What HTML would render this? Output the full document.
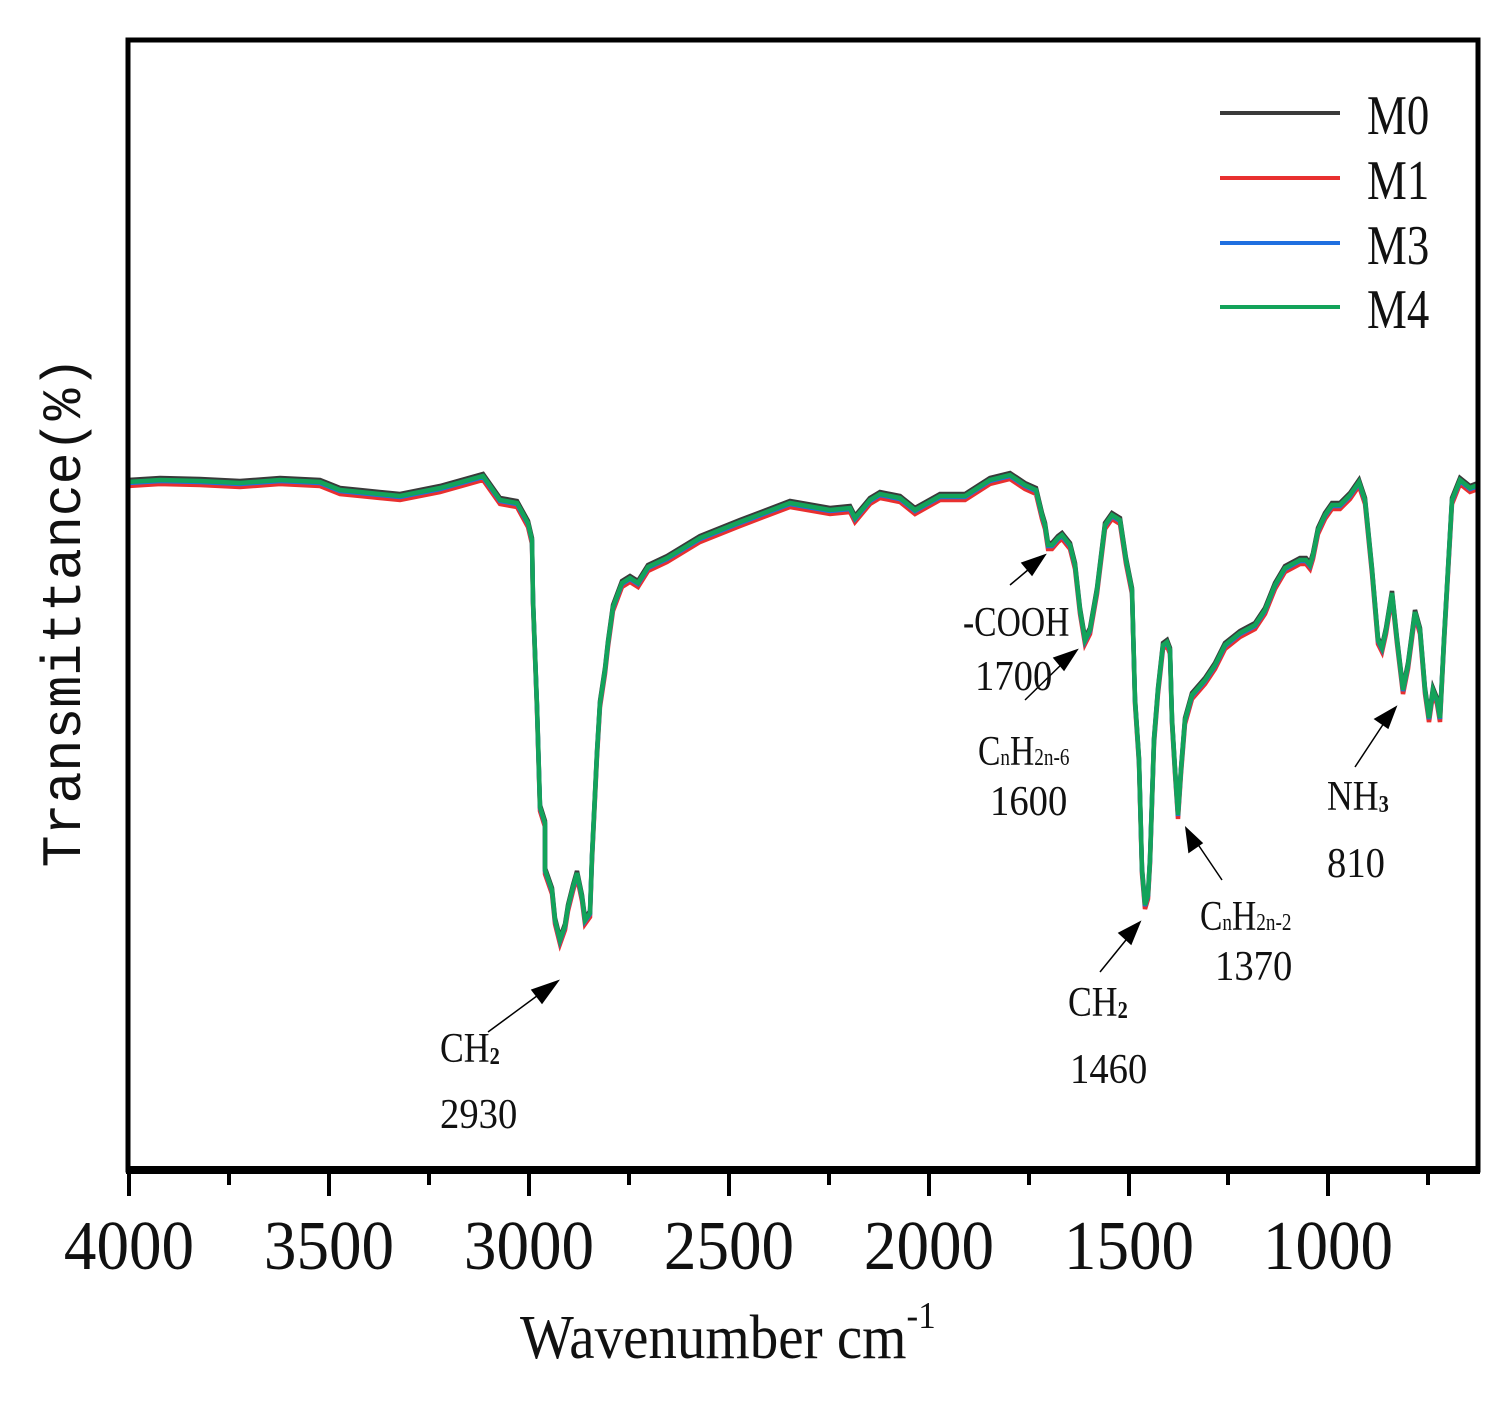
<!DOCTYPE html>
<html><head><meta charset="utf-8"><style>
html,body{margin:0;padding:0;background:#fff;}
svg{display:block;}
text{font-family:"Liberation Serif",serif;fill:#111;}
</style></head><body>
<svg width="1510" height="1401" viewBox="0 0 1510 1401" xmlns="http://www.w3.org/2000/svg">
<defs>
<path id="sp" d="M128,482 L160,480 L200,481 L240,483 L280,480 L320,482 L340,490 L360,492 L400,496 L440,488 L483,476 L500,500 L517,503 L528,523 L532,540 L533,600 L537,707 L540,807 L545,823 L545,870 L552,890 L555,920 L560,940 L565,926 L568,907 L573,887 L577,873 L582,897 L585,920 L590,913 L592,857 L597,753 L600,703 L605,670 L608,643 L613,607 L622,583 L630,578 L638,583 L648,567 L667,558 L700,538 L740,522 L790,503 L830,510 L850,508 L855,518 L870,500 L880,494 L900,498 L915,510 L940,496 L965,496 L990,480 L1010,475 L1025,485 L1036,490 L1042,515 L1045,525 L1048,545 L1052,545 L1058,538 L1062,535 L1070,545 L1075,565 L1080,610 L1085,640 L1090,630 L1097,590 L1105,525 L1112,515 L1120,520 L1126,560 L1132,590 L1135,700 L1139,760 L1142,870 L1145,905 L1148,895 L1150,860 L1154,740 L1158,690 L1163,645 L1167,642 L1170,650 L1172,720 L1175,770 L1178,815 L1181,770 L1185,720 L1192,695 L1205,680 L1215,665 L1225,645 L1240,633 L1255,625 L1265,610 L1275,585 L1285,568 L1300,560 L1306,560 L1310,565 L1313,555 L1318,530 L1325,515 L1332,505 L1340,505 L1350,495 L1359,482 L1365,500 L1372,570 L1378,640 L1382,648 L1386,630 L1392,593 L1397,640 L1403,690 L1408,665 L1415,612 L1420,630 L1425,690 L1429,718 L1433,690 L1437,700 L1440,718 L1444,640 L1452,500 L1460,480 L1470,488 L1478,485"/>
</defs>
<use href="#sp" fill="none" stroke="#3a3a3a" stroke-width="4.5" transform="translate(0,-2)"/>
<use href="#sp" fill="none" stroke="#e8302f" stroke-width="4.5" transform="translate(0,4)"/>
<use href="#sp" fill="none" stroke="#1f6fe0" stroke-width="4.5" transform="translate(0,1)"/>
<use href="#sp" fill="none" stroke="#13a35a" stroke-width="4.5"/>
<line x1="128" y1="480" x2="128" y2="980" stroke="#13a35a" stroke-width="3"/>
<rect x="128" y="40" width="1350" height="1130" fill="none" stroke="#000" stroke-width="5"/>
<line x1="126" y1="1170" x2="1480" y2="1170" stroke="#000" stroke-width="8"/>
<g stroke="#000" stroke-width="4">
<line x1="129" y1="1170" x2="129" y2="1196"/><line x1="329" y1="1170" x2="329" y2="1196"/>
<line x1="529" y1="1170" x2="529" y2="1196"/><line x1="729" y1="1170" x2="729" y2="1196"/>
<line x1="929" y1="1170" x2="929" y2="1196"/><line x1="1129" y1="1170" x2="1129" y2="1196"/>
<line x1="1328" y1="1170" x2="1328" y2="1196"/>
<line x1="229" y1="1170" x2="229" y2="1185"/><line x1="429" y1="1170" x2="429" y2="1185"/>
<line x1="629" y1="1170" x2="629" y2="1185"/><line x1="829" y1="1170" x2="829" y2="1185"/>
<line x1="1029" y1="1170" x2="1029" y2="1185"/><line x1="1228" y1="1170" x2="1228" y2="1185"/>
<line x1="1428" y1="1170" x2="1428" y2="1185"/>
</g>
<g font-size="70" text-anchor="middle">
<text transform="translate(129,1269) scale(0.93,1)">4000</text>
<text transform="translate(329,1269) scale(0.93,1)">3500</text>
<text transform="translate(529,1269) scale(0.93,1)">3000</text>
<text transform="translate(729,1269) scale(0.93,1)">2500</text>
<text transform="translate(929,1269) scale(0.93,1)">2000</text>
<text transform="translate(1129,1269) scale(0.93,1)">1500</text>
<text transform="translate(1328,1269) scale(0.93,1)">1000</text>
</g>
<text font-size="62" transform="translate(520,1358) scale(0.92,1)">Wavenumber cm<tspan font-size="38" dy="-30">-1</tspan></text>
<text font-size="56" text-anchor="middle" transform="translate(80,612) rotate(-90) scale(0.95,1)" style="font-family:'Liberation Mono',monospace">Transmittance(%)</text>
<g stroke-width="4">
<line x1="1220" y1="113" x2="1340" y2="113" stroke="#3a3a3a"/>
<line x1="1220" y1="178" x2="1340" y2="178" stroke="#e8302f"/>
<line x1="1220" y1="243" x2="1340" y2="243" stroke="#1f6fe0"/>
<line x1="1220" y1="307" x2="1340" y2="307" stroke="#13a35a"/>
</g>
<g font-size="56">
<text transform="translate(1367,134) scale(0.8,1)">M0</text>
<text transform="translate(1367,199) scale(0.8,1)">M1</text>
<text transform="translate(1367,264) scale(0.8,1)">M3</text>
<text transform="translate(1367,328) scale(0.8,1)">M4</text>
</g>
<g stroke="#000" stroke-width="1.5" fill="#000">
<line x1="488" y1="1032" x2="545" y2="990"/><polygon points="558,981 532,990 542,1003"/>
<line x1="1010" y1="585" x2="1035" y2="564"/><polygon points="1045,555 1022,563 1032,575"/>
<line x1="1025" y1="700" x2="1066" y2="660"/><polygon points="1077,650 1054,658 1064,670"/>
<line x1="1100" y1="972" x2="1130" y2="935"/><polygon points="1140,922 1119,933 1131,944"/>
<line x1="1222" y1="880" x2="1195" y2="840"/><polygon points="1186,828 1189,852 1202,843"/>
<line x1="1355" y1="767" x2="1386" y2="720"/><polygon points="1396,707 1375,719 1388,728"/>
</g>
<g font-size="42">
<text transform="translate(440,1062) scale(0.85,1)">CH<tspan font-size="24" font-weight="bold" dy="2">2</tspan></text>
<text transform="translate(440,1128) scale(0.92,1)">2930</text>
<text transform="translate(963,636) scale(0.8,1)">-COOH</text>
<text transform="translate(975,690) scale(0.92,1)">1700</text>
<text transform="translate(978,765) scale(0.8,1)">C<tspan font-size="24">n</tspan>H<tspan font-size="24">2n-6</tspan></text>
<text transform="translate(990,815) scale(0.92,1)">1600</text>
<text transform="translate(1068,1016) scale(0.85,1)">CH<tspan font-size="24" font-weight="bold" dy="2">2</tspan></text>
<text transform="translate(1070,1083) scale(0.92,1)">1460</text>
<text transform="translate(1200,930) scale(0.8,1)">C<tspan font-size="24">n</tspan>H<tspan font-size="24">2n-2</tspan></text>
<text transform="translate(1215,980) scale(0.92,1)">1370</text>
<text transform="translate(1327,810) scale(0.85,1)">NH<tspan font-size="24" font-weight="bold" dy="2">3</tspan></text>
<text transform="translate(1327,877) scale(0.92,1)">810</text>
</g>
</svg>
</body></html>
